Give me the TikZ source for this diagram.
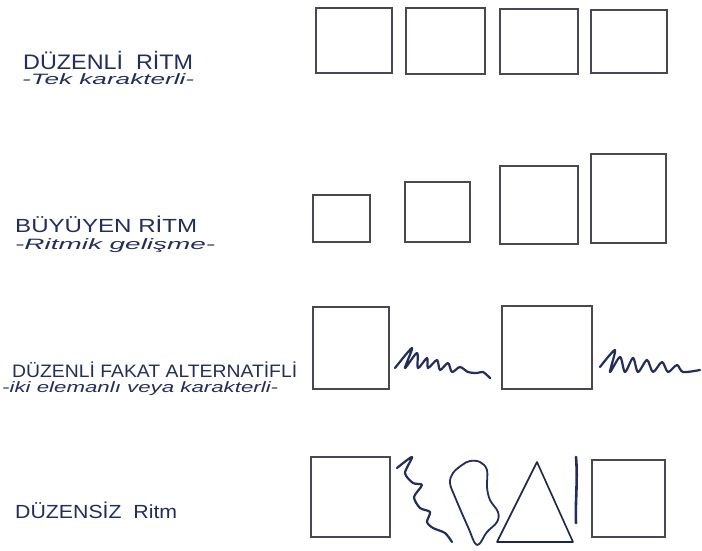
\documentclass[tikz,border=0pt]{standalone}
\usepackage{fontspec}
\setmainfont{Liberation Sans}
\usepackage{graphicx}
\begin{document}
\definecolor{ink}{RGB}{35,45,95}
\definecolor{pencil}{RGB}{70,72,82}
\newcommand{\fitto}[2]{\resizebox{#1pt}{\height}{#2}}
\tikzset{
 box/.style={draw=pencil, line width=1.6pt},
 scrib/.style={draw=ink, line width=2.2pt, line cap=round, line join=round},
 ttl/.style={anchor=west, inner sep=0pt, text=ink},
 sub/.style={anchor=west, inner sep=0pt, text=ink},
}
\begin{tikzpicture}[x=1pt,y=-1pt]
\useasboundingbox[fill=white] (0,0) rectangle (702,550);
% labels
\node[ttl, font=\fontsize{21}{21}\selectfont] (t1) at (23,60) {\fitto{170}{DÜZENLİ\ \ RİTM}};
\node[sub, font=\itshape\fontsize{15}{15}\selectfont] (s1) at (22,79) {\fitto{172}{-Tek karakterli-}};
\node[ttl, font=\fontsize{19}{19}\selectfont] (t2) at (15,224) {\fitto{182}{BÜYÜYEN RİTM}};
\node[sub, font=\itshape\fontsize{15}{15}\selectfont] (s2) at (15,246) {\fitto{200}{-Ritmik gelişme-}};
\node[ttl, font=\fontsize{18}{18}\selectfont] (t3) at (12,370) {\fitto{285}{DÜZENLİ FAKAT ALTERNATİFLİ}};
\node[sub, font=\itshape\fontsize{15}{15}\selectfont] (s3) at (2,389) {\fitto{276}{-iki elemanlı veya karakterli-}};
\node[ttl, font=\fontsize{19}{19}\selectfont] (t4) at (15,510) {\fitto{162}{DÜZENSİZ\ \ Ritm}};
% row 1
\draw[box] (316,8) rectangle (392,73);
\draw[box] (406,8) rectangle (485,74);
\draw[box] (500,9) rectangle (578,74);
\draw[box] (591,10) rectangle (667,73);
% row 2
\draw[box] (313,195) rectangle (370,242);
\draw[box] (405,182) rectangle (470,242);
\draw[box] (500,166) rectangle (578,244);
\draw[box] (591,154) rectangle (666,243);
% row 3
\draw[box] (313,307) rectangle (389,389);
\draw[box] (502,306) rectangle (592,389);
\draw[scrib] plot[smooth, tension=0.5] coordinates {(395,368) (412,348) (405,368) (417,353) (418,368) (427,358) (428,368) (437,360) (440,370) (448,363) (452,372) (460,367) (468,372) (477,373) (483,372) (490,378)};
\draw[scrib] plot[smooth, tension=0.5] coordinates {(600,367) (615,350) (610,372) (620,357) (625,372) (633,358) (638,372) (647,360) (653,372) (662,362) (668,372) (677,365) (683,372) (700,370)};
% row 4
\draw[box] (311,457) rectangle (390,537);
\draw[scrib] plot[smooth, tension=0.45] coordinates {(397,468) (412,457) (405,473) (413,483) (422,485) (414,497) (420,508) (430,512) (427,522) (433,528) (445,533) (452,542)};
\draw[scrib, line width=1.8pt] plot[smooth cycle, tension=0.6] coordinates {(477,545) (468,527) (455,497) (450,483) (453,473) (462,465) (470,461) (480,462) (487,470) (487,487) (490,500) (498,512) (497,522) (487,532)};
\draw[box, draw=ink!80!black, line join=round] (537,462) -- (573,542) -- (497,542) -- cycle;
\draw[scrib, line width=2.6pt] (576,457) .. controls (578,480) and (575,505) .. (576,523);
\draw[box] (592,460) rectangle (665,537);
\end{tikzpicture}
\end{document}
